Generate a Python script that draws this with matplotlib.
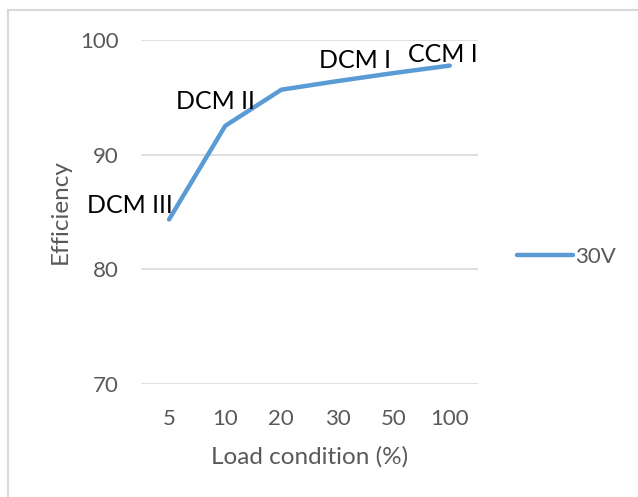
import numpy as np
import matplotlib
matplotlib.use("Agg")
import matplotlib.pyplot as plt
from matplotlib.lines import Line2D

# data
load_labels = ["5", "10", "20", "30", "50", "100"]
eff_30v = [84.35, 92.5, 95.65, 96.4, 97.1, 97.75]
mode_labels = ["DCM III", "DCM II", "", "", "DCM I", "CCM I"]

plt.rcParams['font.family'] = ['Lato', 'DejaVu Sans']

line_col = '#5B9BD5'
grey = '#595959'

fig = plt.figure(figsize=(6.38, 4.97), dpi=100)
ax = fig.add_axes([0.221, 0.227, 0.528, 0.693])

x = np.arange(len(load_labels))
ax.plot(x, eff_30v, color=line_col, lw=3.2, solid_capstyle='round',
        solid_joinstyle='round', label='30V')

# mode annotations
ax.text(x[0] + 0.07, eff_30v[0] + 1.2, mode_labels[0], fontsize=18, ha='right', va='center')
ax.text(x[1] - 0.87, eff_30v[1] + 2.15, mode_labels[1], fontsize=18, ha='left', va='center')
ax.text(x[4] - 0.68, eff_30v[4] + 1.05, mode_labels[4], fontsize=18, ha='center', va='center')
ax.text(x[5] - 0.12, eff_30v[5] + 0.95, mode_labels[5], fontsize=18, ha='center', va='center')

ax.set_xlim(-0.5, len(load_labels) - 0.5)
ax.set_ylim(70, 100)
ax.set_yticks([70, 80, 90, 100])
ax.set_xticks(x)
ax.set_xticklabels(load_labels)
ax.grid(axis='y', color='#D9D9D9', lw=1.2)
ax.set_axisbelow(True)
for s in ax.spines.values():
    s.set_visible(False)
ax.tick_params(length=0, labelsize=16, colors=grey, pad=18)
ax.tick_params(axis='y', pad=16)

ax.set_xlabel("Load condition (%)", fontsize=17.5, color=grey, labelpad=12)
ax.set_ylabel("Efficiency", fontsize=17.5, color=grey, labelpad=7)

leg = fig.legend(handles=ax.get_lines(), loc='center left', bbox_to_anchor=(0.779, 0.483),
                 frameon=False, fontsize=16, handlelength=2.5, handletextpad=0.1)
for t in leg.get_texts():
    t.set_color(grey)

# chart border (top and left edges visible)
fig.add_artist(Line2D([8 / 638, 8 / 638], [0, 1 - 10 / 497], transform=fig.transFigure,
                      color='#D9D9D9', lw=1.5))
fig.add_artist(Line2D([8 / 638, 1], [1 - 10 / 497, 1 - 10 / 497], transform=fig.transFigure,
                      color='#D9D9D9', lw=1.5))

fig.savefig("out.png", dpi=100)
